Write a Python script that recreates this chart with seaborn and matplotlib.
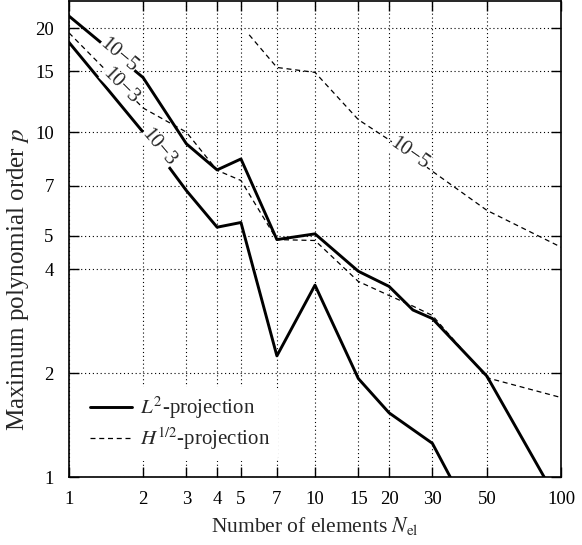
import numpy as np
import pandas as pd
import matplotlib
matplotlib.use("Agg")
import matplotlib.pyplot as plt
import seaborn as sns

# ---- data ----
n_l2_5 = [1, 2, 3, 4, 5, 7, 10, 15, 20, 25, 30, 50, 100]
p_l2_5 = [21.7, 14.4, 9.25, 7.77, 8.36, 4.88, 5.07, 3.95, 3.57, 3.05, 2.88, 1.96, 0.82]

n_l2_3 = [1, 2, 3, 4, 5, 7, 10, 15, 20, 30, 50]
p_l2_3 = [18.2, 10.0, 6.77, 5.30, 5.47, 2.245, 3.60, 1.93, 1.535, 1.252, 0.63]

n_h_3 = [1, 2, 3, 4, 5, 7, 10, 15, 20, 25, 30, 50, 100]
p_h_3 = [19.4, 11.75, 10.0, 7.75, 7.24, 4.88, 4.85, 3.69, 3.36, 3.13, 2.94, 1.94, 1.70]

n_h_5 = [5.4, 7, 10, 15, 20, 30, 50, 100]
p_h_5 = [19.15, 15.4, 14.9, 10.87, 9.5, 7.7, 5.93, 4.64]

x_ticks = [1, 2, 3, 4, 5, 7, 10, 15, 20, 30, 50, 100]
y_ticks = [1, 2, 4, 5, 7, 10, 15, 20]

legend_labels = [r"$L^2$-projection", r"$H^{1/2}$-projection"]
curve_labels = ["10\u22125", "10\u22123", "10\u22123", "10\u22125"]

# ---- style ----
sns.set_theme(style="ticks")
plt.rcParams["font.family"] = ["Liberation Serif", "DejaVu Serif"]
plt.rcParams["mathtext.fontset"] = "stix"
plt.rcParams["axes.linewidth"] = 1.2

fig = plt.figure(figsize=(5.82, 5.45), dpi=100)
ax = fig.add_axes([69 / 582, 1 - 477 / 545, (561 - 69) / 582, (477 - 1) / 545])

def frame(n, p, name):
    return pd.DataFrame({"N": n, "p": p, "series": name})

df_l2_5 = frame(n_l2_5, p_l2_5, "L2_5")
df_l2_3 = frame(n_l2_3, p_l2_3, "L2_3")
df_h_3 = frame(n_h_3, p_h_3, "H_3")
df_h_5 = frame(n_h_5, p_h_5, "H_5")

solid_kw = dict(color="black", linewidth=2.1, estimator=None, sort=False)
dash_kw = dict(color="black", linewidth=0.9, estimator=None, sort=False)

sns.lineplot(data=df_l2_5, x="N", y="p", ax=ax, zorder=3, label=legend_labels[0], **solid_kw)
sns.lineplot(data=df_l2_3, x="N", y="p", ax=ax, zorder=3, **solid_kw)
sns.lineplot(data=df_h_3, x="N", y="p", ax=ax, zorder=3, label=legend_labels[1], **dash_kw)
sns.lineplot(data=df_h_5, x="N", y="p", ax=ax, zorder=3, **dash_kw)

for ln in ax.get_lines()[2:4]:
    ln.set_linestyle((0, (4, 3)))

ax.set_xscale("log")
ax.set_yscale("log")
ax.set_xlim(1, 100)
ax.set_ylim(1, 24)

ax.set_xticks(x_ticks)
ax.set_xticklabels([str(t) for t in x_ticks])
ax.set_yticks(y_ticks)
ax.set_yticklabels([str(t) for t in y_ticks])
ax.minorticks_off()
ax.tick_params(axis="both", which="major", direction="in", length=7, width=1.0,
               top=True, right=True, labelsize=13.5, colors="black")
ax.tick_params(axis="x", pad=10)
ax.tick_params(axis="y", pad=11)

ax.grid(True, which="major", color="black", linestyle=(0, (1, 2.5)), linewidth=0.8)
ax.set_axisbelow(True)
for s in ax.spines.values():
    s.set_color("black")
    s.set_linewidth(1.2)

ax.set_xlabel(r"Number of elements $N_{\mathrm{el}}$", fontsize=15.5, labelpad=5)
ax.set_ylabel(r"Maximum polynomial order $p$", fontsize=18)
ax.yaxis.set_label_coords(-0.078, 0.415)

# inline curve labels
label_pos = [(1.586, 16.65, -40), (1.62, 13.63, -45), (2.32, 9.04, -50), (24.3, 8.65, -35)]
for (x, y, rot), txt in zip(label_pos, curve_labels):
    ax.text(x, y, txt, rotation=rot, rotation_mode="anchor", ha="center", va="center",
            fontsize=15, zorder=4,
            bbox=dict(facecolor="white", edgecolor="none", pad=0.2))

leg = ax.legend(loc="lower left", bbox_to_anchor=(0.0, 0.008), frameon=True,
                fontsize=15, handlelength=2.0, handletextpad=0.4,
                borderaxespad=0.6, labelspacing=0.2)
leg.get_frame().set_facecolor("white")
leg.get_frame().set_edgecolor("none")
leg.get_frame().set_alpha(1.0)
leg.set_zorder(5)

fig.savefig("out.png", dpi=100)
